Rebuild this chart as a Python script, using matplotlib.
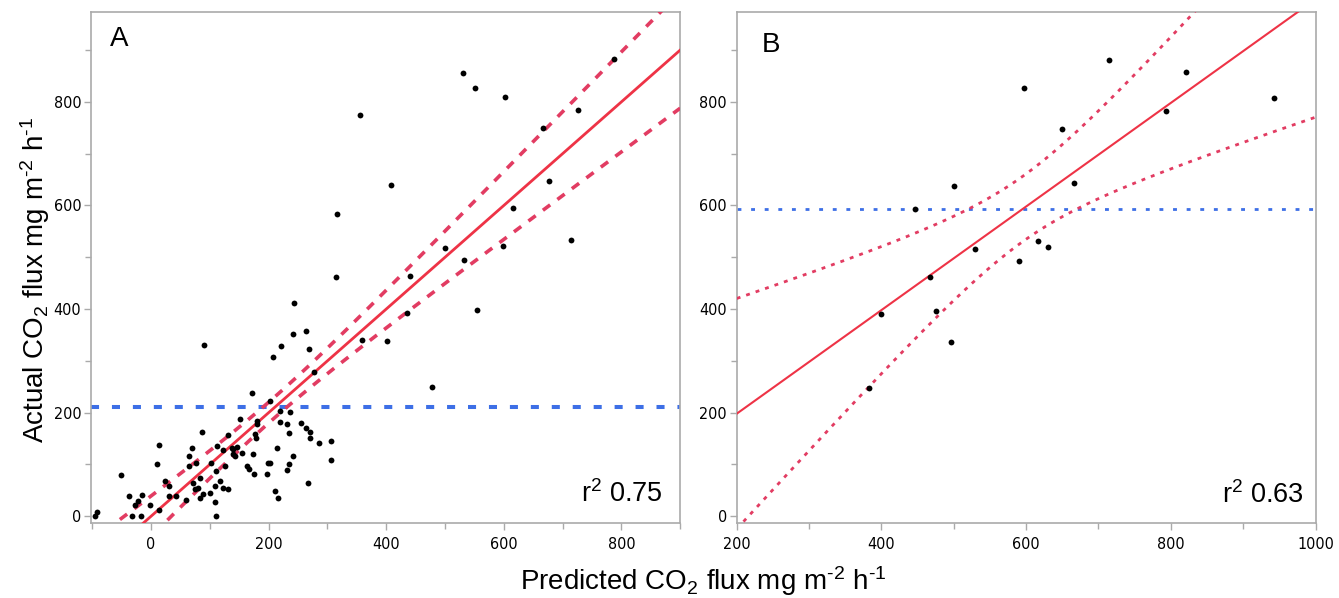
import numpy as np
import matplotlib
matplotlib.use('Agg')
import matplotlib.pyplot as plt
from matplotlib.ticker import MultipleLocator
from matplotlib import font_manager

plt.rcParams['font.family'] = ['Liberation Sans', 'DejaVu Sans']
plt.rcParams['mathtext.fontset'] = 'custom'
plt.rcParams['mathtext.rm'] = 'Liberation Sans'
plt.rcParams['mathtext.it'] = 'Liberation Sans:italic'
plt.rcParams['mathtext.bf'] = 'Liberation Sans:bold'

# Panel A: predicted vs actual CO2 flux, calibration set
pred_a = [-95, -92, -33, -17, 110, -51, -38, -27, -23, -16, -2, 14, 11, 14, 24, 30, 31, 42,
          59, 65, 69, 65, 77, 71, 75, 80, 84, 84, 88, 86, 90, 100, 102, 109, 109, 110, 112,
          117, 122, 123, 126, 131, 131, 137, 139, 140, 143, 147, 151, 155, 164, 167, 171, 173,
          175, 178, 177, 180, 181, 198, 199, 202, 208, 210, 215, 216, 219, 219, 221, 202,
          232, 232, 235, 236, 235, 242, 241, 255, 263, 264, 268, 267, 270, 271, 277, 286,
          306, 306, 359, 243, 314, 316, 355, 402, 408, 435, 440, 478, 500, 531, 533, 551,
          555, 598, 602, 615, 666, 676, 715, 727, 788]
actual_a = [1, 8, 0, 0, 0, 80, 39, 21, 29, 41, 22, 12, 100, 138, 68, 58, 39, 39,
            31, 98, 132, 116, 103, 64, 52, 55, 74, 35, 43, 162, 330, 45, 102, 58, 27, 87, 135,
            69, 127, 55, 97, 156, 53, 132, 130, 120, 116, 133, 187, 122, 97, 91, 238, 120,
            81, 151, 158, 178, 183, 81, 103, 102, 308, 49, 132, 36, 203, 182, 328, 223,
            178, 90, 100, 201, 160, 117, 352, 180, 357, 171, 323, 64, 151, 162, 279, 142,
            145, 109, 341, 411, 461, 584, 774, 339, 640, 393, 463, 250, 517, 856, 495, 827,
            399, 521, 809, 595, 749, 647, 533, 785, 883]

# Panel B: validation set
pred_b = [446, 500, 597, 529, 467, 400, 475, 496, 383, 590, 649, 714, 821, 793, 942, 666, 617, 630]
actual_b = [593, 637, 827, 515, 461, 391, 397, 337, 247, 493, 747, 881, 857, 783, 807, 644, 531, 519]

# fitted line (slope, intercept), mean of actual flux,
# confidence band (centre, half-width at centre, spread)
fit_a = (1.0, 0.0)
fit_b = (1.0, -2.0)
mean_a = 210
mean_b = 593
band_a = (210, 20, 0.16)
band_b = (595, 63, 0.54)
r2_a = 0.75
r2_b = 0.63

RED = '#ee3346'
BAND = '#e23c62'
BLUE = '#3d6fe6'
FRAME = '#aaaaaa'

# narrow face for the tick numbers if one is installed
names = {f.name for f in font_manager.fontManager.ttflist}
if 'Liberation Sans Narrow' in names:
    tick_font = font_manager.FontProperties(family='Liberation Sans Narrow', size=12.5)
else:
    tick_font = font_manager.FontProperties(family='DejaVu Sans', stretch='condensed', size=11.5)

fig = plt.figure(figsize=(13.39, 5.98), dpi=100)
ax_a = fig.add_axes([0.068, 0.1254, 0.440, 0.855])
ax_b = fig.add_axes([0.5502, 0.1254, 0.4323, 0.855])


def draw_panel(ax, pred, actual, fit, band, mean, xlim, heavy):
    x = np.linspace(xlim[0], xlim[1], 400)
    yfit = fit[0] * x + fit[1]
    c, h0, k = band
    half = np.sqrt(h0 ** 2 + (k * (x - c)) ** 2)
    if heavy:
        ax.plot(x, yfit, color=RED, lw=2.0, zorder=3)
        for yb in (yfit + half, yfit - half):
            ax.plot(x, yb, color=BAND, lw=2.6, ls=(0, (2.5, 2.5)), zorder=3)
        ax.axhline(mean, color=BLUE, lw=2.9, ls=(0, (2.0, 3.2)), zorder=2)
    else:
        ax.plot(x, yfit, color=RED, lw=1.5, zorder=3)
        for yb in (yfit + half, yfit - half):
            ax.plot(x, yb, color=BAND, lw=2.0, ls=(0, (1.4, 2.2)), zorder=3)
        ax.axhline(mean, color=BLUE, lw=2.0, ls=(0, (1.4, 3.5)), zorder=2)
    ax.plot(pred, actual, 'o', color='black', ms=4.2, mec='none', zorder=4)

    ax.set_xlim(*xlim)
    ax.set_ylim(-13, 974)
    ax.xaxis.set_major_locator(MultipleLocator(200))
    ax.xaxis.set_minor_locator(MultipleLocator(100))
    ax.yaxis.set_major_locator(MultipleLocator(200))
    ax.yaxis.set_minor_locator(MultipleLocator(100))
    for s in ax.spines.values():
        s.set_color(FRAME)
        s.set_linewidth(1.2)
    ax.tick_params(which='major', direction='out', length=5, width=1, color=FRAME, pad=2)
    ax.tick_params(which='minor', direction='out', length=4, width=1, color=FRAME)
    ax.tick_params(axis='x', which='major', pad=5)
    for lab in ax.get_xticklabels() + ax.get_yticklabels():
        lab.set_fontproperties(tick_font)


draw_panel(ax_a, pred_a, actual_a, fit_a, band_a, mean_a, (-102, 900), True)
draw_panel(ax_b, pred_b, actual_b, fit_b, band_b, mean_b, (200, 1000), False)

ax_a.text(0.032, 0.932, 'A', transform=ax_a.transAxes, fontsize=20, ha='left', va='baseline')
ax_b.text(0.043, 0.922, 'B', transform=ax_b.transAxes, fontsize=20, ha='left', va='baseline')
ax_a.text(0.971, 0.042, f'r$^2$ {r2_a:.2f}', transform=ax_a.transAxes, fontsize=19.5,
          ha='right', va='baseline')
ax_b.text(0.979, 0.0385, f'r$^2$ {r2_b:.2f}', transform=ax_b.transAxes, fontsize=19.5,
          ha='right', va='baseline')

# hyphen rather than the long math minus in the unit exponents
units = 'CO$_2$ flux mg m$^{\u20102}$ h$^{\u20101}$'
fig.text(0.525, 0.014, 'Predicted ' + units, fontsize=20, ha='center', va='baseline')
fig.text(0.026, 0.532, 'Actual ' + units, fontsize=20, ha='center', va='center', rotation=90)

fig.savefig('out.png', dpi=100)
